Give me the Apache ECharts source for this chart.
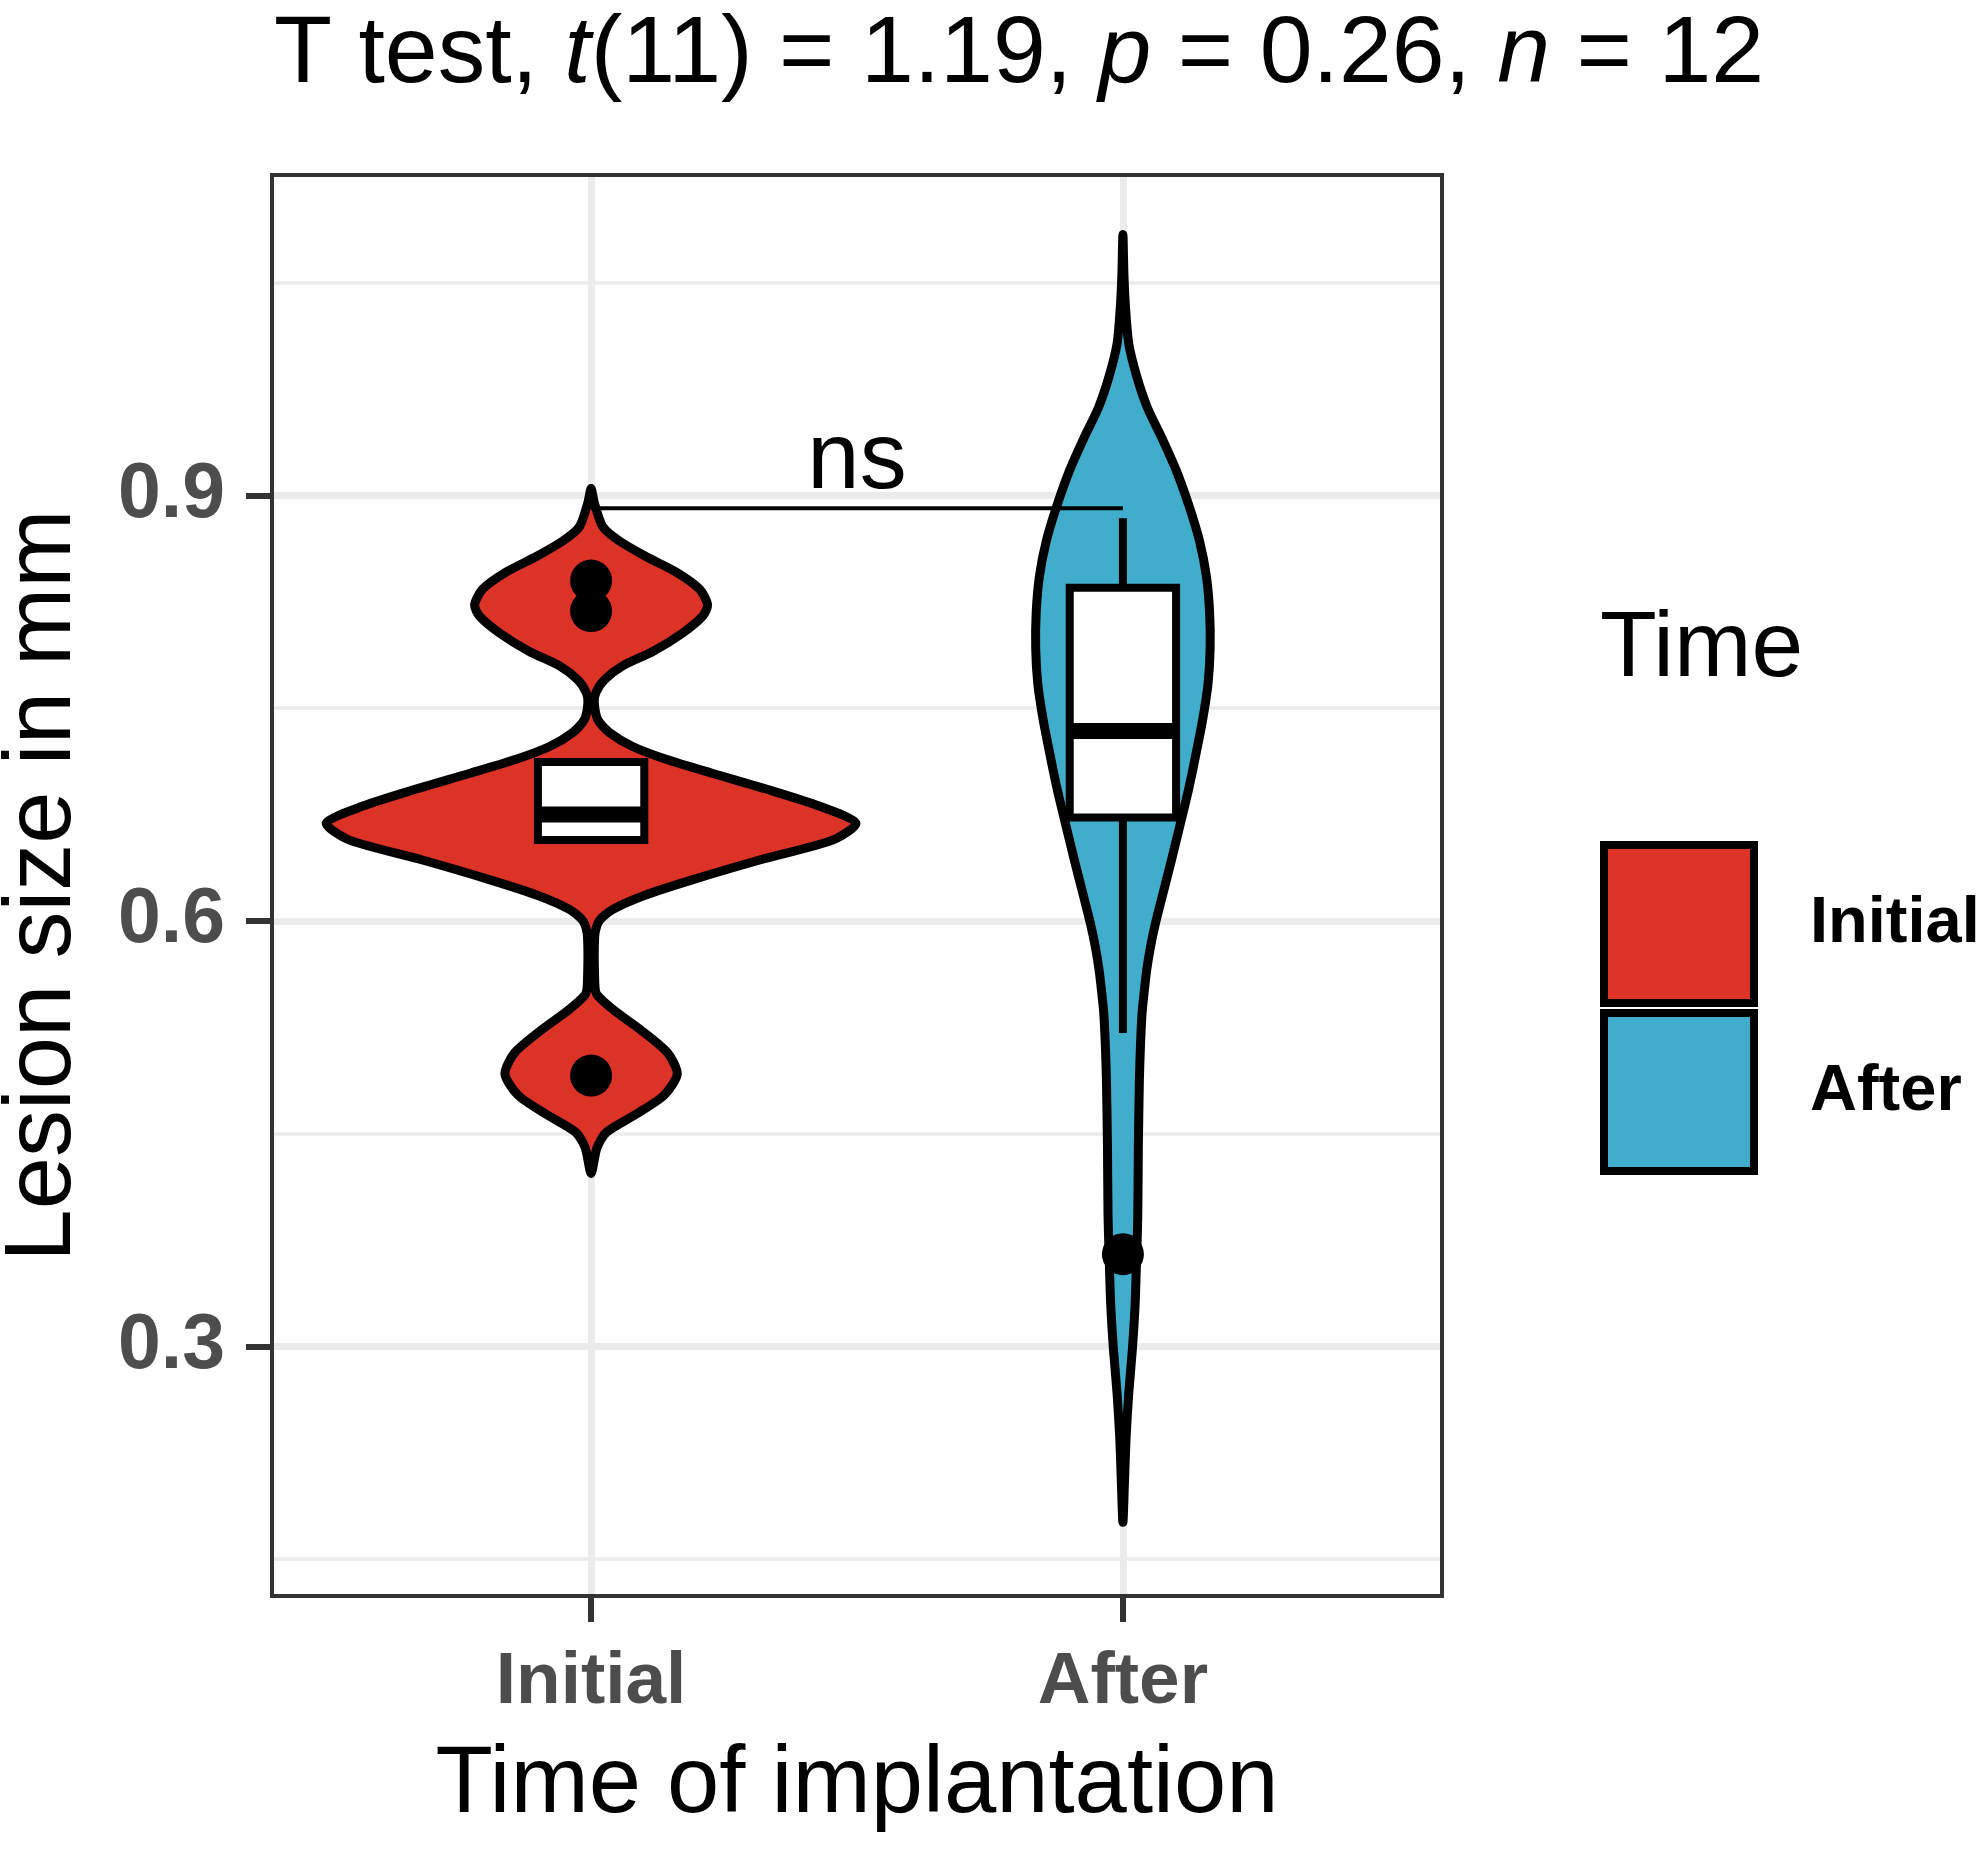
<!DOCTYPE html>
<html>
<head>
<meta charset="utf-8">
<title>Lesion size violin</title>
<script src="https://cdn.jsdelivr.net/npm/echarts@6/dist/echarts.min.js"></script>
<style>
  html, body { margin: 0; padding: 0; background: #fff; }
  #chart { width: 1983px; height: 1849px; }
</style>
</head>
<body>
<div id="chart"></div>
<script>
var groups = ["Initial", "After"];
var groupColors = ["#DD3226", "#40ADCC"];

// violin outlines: y level and half width (in x units)
var initialY = [0.905, 0.895, 0.878, 0.868, 0.857, 0.846, 0.834, 0.823, 0.815, 0.803, 0.790, 0.780, 0.770,
    0.761, 0.754, 0.742, 0.733, 0.723, 0.714, 0.704, 0.693, 0.681, 0.669, 0.657, 0.643, 0.629, 0.618,
    0.608, 0.600, 0.590, 0.556, 0.548, 0.537, 0.523, 0.507, 0.492, 0.477, 0.464, 0.451, 0.440, 0.422];
var initialHalfWidth = [0, 0.006, 0.022, 0.053, 0.103, 0.160, 0.204, 0.219, 0.210, 0.172, 0.116, 0.060, 0.025,
    0.009, 0.006, 0.0125, 0.034, 0.078, 0.141, 0.229, 0.329, 0.429, 0.498, 0.454, 0.317, 0.190, 0.100,
    0.040, 0.015, 0.007, 0.007, 0.011, 0.043, 0.094, 0.144, 0.162, 0.137, 0.086, 0.029, 0.011, 0];
var afterY = [1.084, 1.055, 1.032, 1.007, 0.984, 0.962, 0.940, 0.918, 0.893, 0.868, 0.843, 0.818, 0.792,
    0.767, 0.742, 0.717, 0.692, 0.667, 0.641, 0.616, 0.598, 0.582, 0.566, 0.550, 0.535, 0.512, 0.488,
    0.440, 0.393, 0.365, 0.330, 0.299, 0.267, 0.236, 0.205, 0.176];
var afterHalfWidth = [0, 0.002, 0.005, 0.011, 0.026, 0.046, 0.074, 0.100, 0.124, 0.144, 0.157, 0.163, 0.164,
    0.160, 0.150, 0.137, 0.123, 0.107, 0.090, 0.073, 0.061, 0.052, 0.045, 0.040, 0.036, 0.033, 0.031,
    0.029, 0.028, 0.026, 0.023, 0.018, 0.011, 0.006, 0.003, 0];

// box: lower whisker, q1, median, q3, upper whisker
var initialBox = [0.657, 0.657, 0.675, 0.712, 0.712];
var afterBox = [0.521, 0.673, 0.734, 0.835, 0.884];
var initialOutliers = [0.840, 0.8185, 0.491];
var afterOutliers = [0.365];

var yTicks = [0.3, 0.6, 0.9];
var yMinorTicks = [0.15, 0.45, 0.75, 1.05];
var bracketY = 0.891;
var bracketText = "ns";

var FONT = "Liberation Sans, Arial, sans-serif";
var boxHalf = 0.1;

var chart = echarts.init(document.getElementById("chart"));

function violin(ys, ws, color) {
    return function (params, api) {
        var c = api.value(0);
        var pts = [];
        for (var i = 0; i < ys.length; i++) pts.push(api.coord([c + ws[i], ys[i]]));
        for (var j = ys.length - 2; j > 0; j--) pts.push(api.coord([c - ws[j], ys[j]]));
        return {
            type: "polygon",
            shape: { points: pts, smooth: 0.25 },
            style: { fill: color, stroke: "#000", lineWidth: 9, lineJoin: "round" }
        };
    };
}

function renderBox(params, api) {
    var x = api.value(0);
    var tl = api.coord([x - boxHalf, api.value(4)]);
    var br = api.coord([x + boxHalf, api.value(2)]);
    var mL = api.coord([x - boxHalf, api.value(3)]);
    var mR = api.coord([x + boxHalf, api.value(3)]);
    var wTop = api.coord([x, api.value(5)]), wQ3 = api.coord([x, api.value(4)]);
    var wBot = api.coord([x, api.value(1)]), wQ1 = api.coord([x, api.value(2)]);
    var ln = { stroke: "#000", lineWidth: 8 };
    return {
        type: "group",
        children: [
            { type: "line", shape: { x1: wTop[0], y1: wTop[1], x2: wQ3[0], y2: wQ3[1] }, style: ln },
            { type: "line", shape: { x1: wBot[0], y1: wBot[1], x2: wQ1[0], y2: wQ1[1] }, style: ln },
            { type: "rect", shape: { x: tl[0], y: tl[1], width: br[0] - tl[0], height: br[1] - tl[1] },
              style: { fill: "#fff", stroke: "#000", lineWidth: 8 } },
            { type: "line", shape: { x1: mL[0], y1: mL[1], x2: mR[0], y2: mR[1] },
              style: { stroke: "#000", lineWidth: 16 } }
        ]
    };
}

function renderBracket(params, api) {
    var a = api.coord([api.value(0), api.value(2)]);
    var b = api.coord([api.value(1), api.value(2)]);
    return {
        type: "group",
        children: [
            { type: "line", shape: { x1: a[0], y1: a[1], x2: b[0], y2: b[1] },
              style: { stroke: "#000", lineWidth: 4 } },
            { type: "text", x: (a[0] + b[0]) / 2, y: a[1] + 1,
              style: { text: bracketText, font: "94px " + FONT, fill: "#000",
                       textAlign: "center", textVerticalAlign: "bottom" } }
        ]
    };
}

var outlierData = initialOutliers.map(function (v) { return [1, v]; })
    .concat(afterOutliers.map(function (v) { return [2, v]; }));

var option = {
    backgroundColor: "#fff",
    animation: false,
    title: [{
        text: "{r|T test, }{i|t}{r|(11) = 1.19, }{i|p}{r| = 0.26, }{i|n}{r| = 12}",
        left: 274, top: 8, padding: 0,
        textStyle: {
            rich: {
                r: { fontSize: 95, fontFamily: FONT, fontWeight: "normal", color: "#000", lineHeight: 95 },
                i: { fontSize: 95, fontFamily: FONT, fontWeight: "normal", fontStyle: "italic", color: "#000", lineHeight: 95 }
            }
        }
    }, {
        text: "Time",
        left: 1600, top: 604, padding: 0,
        textStyle: { fontSize: 93, fontFamily: FONT, fontWeight: "normal", color: "#000", lineHeight: 93 }
    }],
    legend: {
        orient: "vertical",
        left: 1600, top: 841, padding: 0,
        itemWidth: 150, itemHeight: 158, itemGap: 2,
        icon: "rect",
        selectedMode: false,
        data: groups.map(function (g, i) {
            return { name: g, itemStyle: { color: groupColors[i], borderColor: "#000", borderWidth: 8 } };
        }),
        textStyle: { fontSize: 65, fontWeight: "bold", color: "#000", fontFamily: FONT, padding: [0, 0, 0, 51] }
    },
    grid: { left: 272, top: 175, width: 1170, height: 1421, outerBoundsMode: "none" },
    xAxis: {
        type: "value", min: 0.4, max: 2.6,
        axisLine: { show: false },
        axisTick: { show: true, customValues: [1, 2], length: 26, lineStyle: { color: "#333", width: 6 } },
        axisLabel: {
            customValues: [1, 2],
            formatter: function (v) { return groups[Math.round(v) - 1]; },
            margin: 50, fontSize: 73, fontWeight: "bold", color: "#4D4D4D", fontFamily: FONT, lineHeight: 73
        },
        splitLine: { show: true, lineStyle: { color: "#EBEBEB", width: 7 } },
        name: "Time of implantation", nameLocation: "middle", nameGap: 143,
        nameTextStyle: { fontSize: 94, color: "#000", fontFamily: FONT, lineHeight: 94 }
    },
    yAxis: [{
        type: "value", min: 0.124, max: 1.126,
        axisLine: { show: false },
        axisTick: { show: true, customValues: yTicks, length: 26, lineStyle: { color: "#333", width: 6 } },
        axisLabel: {
            customValues: yTicks,
            formatter: function (v) { return v.toFixed(1); },
            margin: 47, fontSize: 77, fontWeight: "bold", color: "#4D4D4D", fontFamily: FONT, lineHeight: 77
        },
        splitLine: { show: true, lineStyle: { color: "#EBEBEB", width: 7 } },
        name: "Lesion size in mm", nameLocation: "middle", nameGap: 181,
        nameTextStyle: { fontSize: 94, color: "#000", fontFamily: FONT, lineHeight: 94 }
    }, {
        type: "value", min: 0.124, max: 1.126, position: "left",
        axisLine: { show: false },
        axisTick: { show: false, customValues: yMinorTicks },
        axisLabel: { show: false },
        splitLine: { show: true, lineStyle: { color: "#EBEBEB", width: 3.5 } }
    }],
    graphic: [{
        type: "rect", z: 100, silent: true,
        shape: { x: 272, y: 175, width: 1170, height: 1421 },
        style: { fill: null, stroke: "#333", lineWidth: 4 }
    }],
    series: [{
        name: "Initial", type: "custom", z: 2,
        itemStyle: { color: groupColors[0] },
        renderItem: violin(initialY, initialHalfWidth, groupColors[0]),
        data: [[1, initialBox[2]]]
    }, {
        name: "After", type: "custom", z: 2,
        itemStyle: { color: groupColors[1] },
        renderItem: violin(afterY, afterHalfWidth, groupColors[1]),
        data: [[2, afterBox[2]]]
    }, {
        name: "box", type: "custom", z: 3,
        renderItem: renderBox,
        encode: { x: 0, y: [1, 2, 3, 4, 5] },
        data: [[1].concat(initialBox), [2].concat(afterBox)]
    }, {
        name: "outliers", type: "scatter", z: 4,
        symbolSize: 42,
        itemStyle: { color: "#000", opacity: 1 },
        data: outlierData
    }, {
        name: "signif", type: "custom", z: 5,
        renderItem: renderBracket,
        encode: { x: [0, 1], y: 2 },
        data: [[1, 2, bracketY]]
    }]
};
chart.setOption(option);
</script>
</body>
</html>
